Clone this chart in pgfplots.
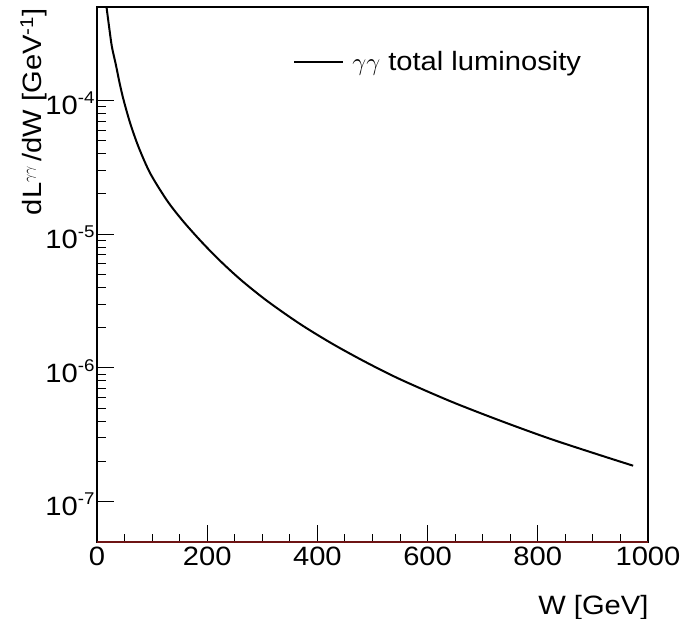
\documentclass[border=0pt]{standalone}
\usepackage{fontspec}
\setmainfont{Liberation Sans}[FakeStretch=1.1]
\usepackage{pgfplots}
\pgfplotsset{compat=1.18}

\newcommand{\bigfont}{\fontsize{26.5bp}{31bp}\selectfont}
\newcommand{\expo}[1]{10\raisebox{11bp}{\fontsize{17bp}{17bp}\selectfont #1}}

% dL/dW for the gamma gamma total luminosity
\pgfplotstableread{
W      L
17.4   4.99e-4
18.1   4.70e-4
23.0   3.30e-4
27.2   2.50e-4
34.0   1.87e-4
41.2   1.34e-4
48.5   1.00e-4
60.4   6.73e-5
75.7   4.46e-5
96.7   2.85e-5
127    1.79e-5
155    1.27e-5
187    9.02e-6
220    6.53e-6
260    4.60e-6
308    3.19e-6
368    2.14e-6
428    1.51e-6
489    1.10e-6
550    8.24e-7
641    5.65e-7
731    4.05e-7
822    2.96e-7
913    2.23e-7
973    1.86e-7
}\lumi

\begin{document}
\begin{tikzpicture}
\begin{axis}[
  scale only axis,
  width=551bp, height=535bp,
  ymode=log,
  xmin=0, xmax=1000,
  ymin=5e-8, ymax=5e-4,
  clip=false,
  axis line style={line width=1.2bp},
  tick align=inside,
  xtick pos=bottom, ytick pos=left,
  xtick={0,200,...,1000},
  minor xtick={50,100,150,250,300,350,450,500,550,650,700,750,850,900,950},
  ytick={1e-7,1e-6,1e-5,1e-4},
  yticklabels={\expo{-7},\expo{-6},\expo{-5},\expo{-4}},
  major tick length=17bp, minor tick length=8.5bp,
  every tick/.style={black, line width=1bp},
  /pgf/number format/assume math mode=true,
  /pgf/number format/1000 sep={},
  tick label style={font=\bigfont},
  xticklabel style={yshift=-1bp},
  yticklabel style={anchor=east, xshift=1bp, yshift=-3bp},
  xlabel={W [GeV]},
  xlabel style={font=\bigfont, at={(rel axis cs:1,0)}, anchor=base east, xshift=4bp, yshift=-72bp},
  ylabel={dL\textsuperscript{\fontsize{15bp}{15bp}\selectfont$\gamma\gamma$}\,/dW [GeV\textsuperscript{-1}]},
  ylabel style={font=\bigfont, at={(rel axis cs:0,1)}, anchor=base east, xshift=2bp, yshift=55bp},
  legend style={draw=none, fill=none, font=\bigfont, at={(axis description cs:0.356,0.897)}, anchor=west, inner sep=0pt},
  legend image code/.code={\draw[#1] (0bp,0bp) -- (49bp,0bp); \path (55bp,0bp);},
  legend cell align=left,
]
\addplot[black, line width=2bp, smooth] table[x=W, y=L] {\lumi};
\addlegendentry{$\gamma\gamma$ total luminosity}
\addplot[color={rgb,255:red,110;green,20;blue,20}, line width=1.2bp, forget plot] coordinates {(0,5e-8) (1000,5e-8)};
\coordinate (ll) at (rel axis cs:0,0);
\end{axis}
\pgfresetboundingbox
\path[use as bounding box] (ll) ++(-97bp,-77bp) rectangle ++(682bp,619bp);
\end{tikzpicture}
\end{document}
